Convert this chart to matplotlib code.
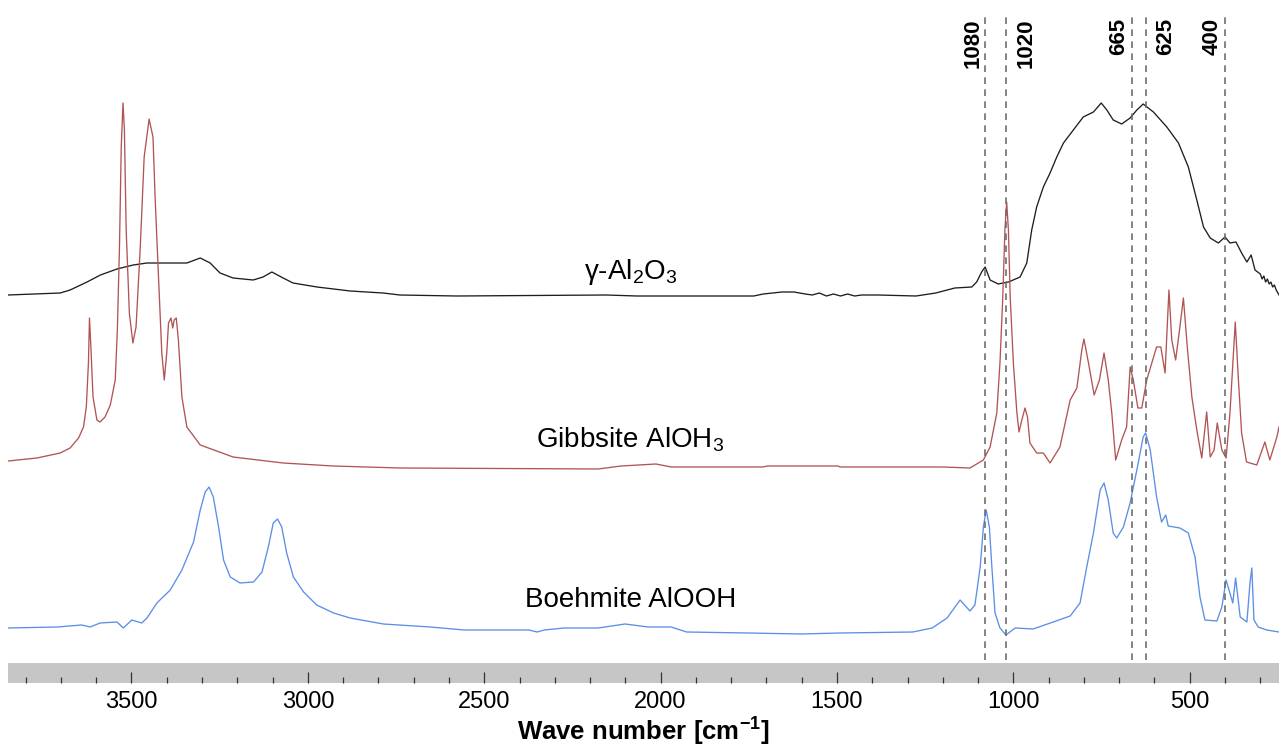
import numpy as np
import matplotlib
matplotlib.use('Agg')
import matplotlib.pyplot as plt
from matplotlib.ticker import MultipleLocator

plt.rcParams['font.family'] = ['Liberation Sans', 'DejaVu Sans']
plt.rcParams['mathtext.fontset'] = 'custom'
plt.rcParams['mathtext.rm'] = 'Liberation Sans'
plt.rcParams['mathtext.it'] = 'Liberation Sans:italic'
plt.rcParams['mathtext.bf'] = 'Liberation Sans:bold'

# spectra: (wave number cm-1, absorbance a.u. above own baseline)
gamma_pts = [
    (3850, 0.01), (3702, 0.03), (3674, 0.06), (3626, 0.14), (3588, 0.21), (3541, 0.27),
    (3495, 0.31), (3456, 0.33), (3382, 0.33), (3343, 0.33), (3305, 0.38), (3277, 0.33),
    (3249, 0.23), (3212, 0.18), (3155, 0.16), (3127, 0.19), (3102, 0.24), (3070, 0.18),
    (3042, 0.13), (2974, 0.09), (2880, 0.05), (2787, 0.03), (2739, 0.01), (2578, 0.0),
    (2154, 0.01), (2067, 0.0), (1736, 0.0), (1709, 0.02), (1656, 0.04), (1622, 0.04),
    (1590, 0.02), (1570, 0.01), (1550, 0.03), (1530, 0.0), (1510, 0.02), (1490, 0.0),
    (1470, 0.02), (1450, 0.0), (1430, 0.01), (1384, 0.01), (1276, 0.0), (1220, 0.03),
    (1166, 0.08), (1118, 0.09), (1104, 0.14), (1090, 0.24), (1080, 0.29), (1066, 0.16),
    (1043, 0.12), (1014, 0.14), (981, 0.19), (962, 0.33), (948, 0.66), (934, 0.89),
    (915, 1.09), (896, 1.23), (877, 1.39), (858, 1.53), (830, 1.66), (802, 1.79),
    (773, 1.84), (751, 1.93), (735, 1.86), (717, 1.76), (693, 1.72), (669, 1.78),
    (650, 1.86), (632, 1.92), (603, 1.84), (565, 1.69), (532, 1.53), (504, 1.29),
    (480, 0.96), (461, 0.69), (442, 0.58), (419, 0.53), (400, 0.59), (386, 0.53),
    (369, 0.54), (353, 0.43), (338, 0.34), (326, 0.41), (315, 0.26), (300, 0.22),
    (295, 0.17), (290, 0.20), (285, 0.14), (280, 0.17), (275, 0.12), (270, 0.14),
    (265, 0.09), (260, 0.11), (255, 0.06), (250, 0.03), (247, 0.01),
]

gibbsite_pts = [
    (3850, 0.07), (3768, 0.10), (3702, 0.15), (3674, 0.20), (3650, 0.30), (3636, 0.41),
    (3628, 0.61), (3622, 1.05), (3619, 1.50), (3615, 1.21), (3609, 0.71), (3598, 0.48),
    (3589, 0.46), (3575, 0.51), (3560, 0.63), (3546, 0.88), (3540, 1.38), (3534, 2.21),
    (3529, 3.21), (3524, 3.65), (3520, 3.38), (3515, 2.38), (3506, 1.55), (3496, 1.25),
    (3487, 1.41), (3475, 2.21), (3464, 3.11), (3450, 3.49), (3439, 3.31), (3433, 2.71),
    (3423, 1.88), (3414, 1.15), (3407, 0.88), (3400, 1.15), (3395, 1.45), (3388, 1.50),
    (3383, 1.40), (3379, 1.48), (3373, 1.50), (3367, 1.28), (3357, 0.71), (3343, 0.41),
    (3305, 0.23), (3212, 0.11), (3070, 0.05), (2928, 0.02), (2739, 0.0), (2177, -0.01),
    (2112, 0.02), (2013, 0.04), (1970, 0.01), (1710, 0.01), (1698, 0.02), (1497, 0.02),
    (1491, 0.01), (1199, 0.01), (1123, 0.0), (1085, 0.08), (1066, 0.21), (1047, 0.55),
    (1038, 1.05), (1030, 1.71), (1024, 2.38), (1019, 2.66), (1014, 2.38), (1009, 1.71),
    (1000, 1.05), (990, 0.55), (984, 0.36), (976, 0.48), (967, 0.60), (960, 0.51),
    (953, 0.25), (934, 0.15), (915, 0.15), (896, 0.05), (868, 0.21), (839, 0.68),
    (820, 0.80), (806, 1.18), (800, 1.29), (787, 1.05), (771, 0.73), (756, 0.88),
    (743, 1.15), (731, 0.88), (721, 0.55), (710, 0.08), (693, 0.28), (679, 0.41),
    (669, 1.01), (660, 0.88), (647, 0.60), (636, 0.60), (622, 0.88), (594, 1.21),
    (582, 1.21), (570, 0.95), (559, 1.78), (551, 1.28), (540, 1.08), (529, 1.38),
    (518, 1.70), (507, 1.21), (494, 0.71), (480, 0.38), (466, 0.10), (452, 0.56),
    (442, 0.11), (431, 0.18), (422, 0.45), (409, 0.18), (397, 0.10), (386, 0.55),
    (371, 1.46), (362, 0.88), (353, 0.35), (339, 0.06), (310, 0.03), (287, 0.26),
    (273, 0.08), (253, 0.31), (247, 0.41),
]

boehmite_pts = [
    (3850, 0.02), (3711, 0.03), (3641, 0.05), (3617, 0.03), (3589, 0.07), (3541, 0.08),
    (3523, 0.02), (3499, 0.10), (3471, 0.07), (3456, 0.12), (3428, 0.27), (3390, 0.40),
    (3357, 0.60), (3324, 0.88), (3305, 1.20), (3291, 1.38), (3280, 1.43), (3268, 1.33),
    (3253, 1.03), (3239, 0.70), (3220, 0.53), (3192, 0.47), (3154, 0.48), (3130, 0.58),
    (3112, 0.83), (3098, 1.07), (3086, 1.11), (3074, 1.03), (3060, 0.77), (3041, 0.53),
    (3012, 0.38), (2975, 0.25), (2927, 0.17), (2880, 0.12), (2786, 0.06), (2653, 0.03),
    (2557, 0.0), (2373, 0.0), (2350, -0.02), (2330, 0.0), (2274, 0.02), (2177, 0.02),
    (2101, 0.06), (2035, 0.03), (1970, 0.03), (1926, -0.02), (1752, -0.03), (1602, -0.04),
    (1491, -0.03), (1285, -0.02), (1230, 0.02), (1188, 0.12), (1151, 0.30), (1123, 0.19),
    (1109, 0.25), (1094, 0.63), (1085, 1.03), (1077, 1.20), (1068, 1.03), (1061, 0.63),
    (1052, 0.17), (1038, 0.02), (1021, -0.05), (995, 0.02), (944, 0.01), (887, 0.08),
    (839, 0.14), (811, 0.27), (792, 0.63), (773, 0.97), (754, 1.40), (743, 1.47),
    (731, 1.30), (717, 0.97), (707, 0.92), (688, 1.03), (669, 1.27), (650, 1.60),
    (632, 1.93), (625, 1.97), (612, 1.80), (594, 1.33), (580, 1.08), (568, 1.15),
    (561, 1.04), (528, 1.02), (504, 0.97), (485, 0.73), (471, 0.33), (457, 0.10),
    (423, 0.09), (409, 0.23), (397, 0.50), (378, 0.27), (370, 0.52), (357, 0.13),
    (338, 0.08), (329, 0.48), (324, 0.62), (318, 0.10), (306, 0.03), (282, 0.0),
    (247, -0.02),
]

series_names = ['γ-Al$_2$O$_3$', 'Gibbsite AlOH$_3$', 'Boehmite AlOOH']
series_offsets = [3.64, 1.92, 0.30]
series_colors = ['#1e1e1e', '#b25454', '#5b8ee8']

marker_lines = [1080, 1020, 665, 625, 400]
marker_side = ['left', 'right', 'left', 'right', 'left']

fig = plt.figure(figsize=(12.81, 7.49), dpi=100)
W, H = 1281, 749
ax = fig.add_axes([8 / W, 89 / H, 1271 / W, 650 / H])
bar = fig.add_axes([8 / W, 66 / H, 1271 / W, 20 / H], sharex=ax)

for pts, off, col in zip([gamma_pts, gibbsite_pts, boehmite_pts],
                         series_offsets, series_colors):
    wn, a = np.array(pts).T
    ax.plot(wn, a + off, color=col, lw=0.95)

# series captions
ax.text(2086, 3.88, series_names[0], ha='center', va='center', fontsize=20)
ax.text(2086, 2.20, series_names[1], ha='center', va='center', fontsize=20)
ax.text(2086, 0.60, series_names[2], ha='center', va='center', fontsize=20)

for w, side in zip(marker_lines, marker_side):
    ax.axvline(w, ymin=0, ymax=0.992, color='#6e6e6e', lw=1.2, ls=(0, (4, 3.2)))
    dx = -2 if side == 'left' else 9
    ax.annotate(str(w), xy=(w, 1), xycoords=ax.get_xaxis_transform(),
                xytext=(dx, -8), textcoords='offset pixels', rotation=90,
                ha='right' if side == 'left' else 'left', va='top',
                fontsize=16, fontweight='bold')

ax.set_xlim(3850, 247)
ax.set_ylim(0, 6.5)
ax.axis('off')

bar.set_facecolor('#c6c6c6')
for s in bar.spines.values():
    s.set_visible(False)
bar.set_yticks([])
bar.xaxis.set_major_locator(MultipleLocator(500))
bar.xaxis.set_minor_locator(MultipleLocator(100))
bar.tick_params(axis='x', which='major', direction='in', length=8, width=0.9,
                color='#333333', labelsize=17, pad=6)
bar.tick_params(axis='x', which='minor', direction='in', length=4.5, width=0.9,
                color='#333333')
bar.set_xlabel('Wave number [cm$^{\\mathbf{-1}}$]', fontsize=18.5, fontweight='bold',
               labelpad=2)

fig.savefig('out.png', dpi=100)
